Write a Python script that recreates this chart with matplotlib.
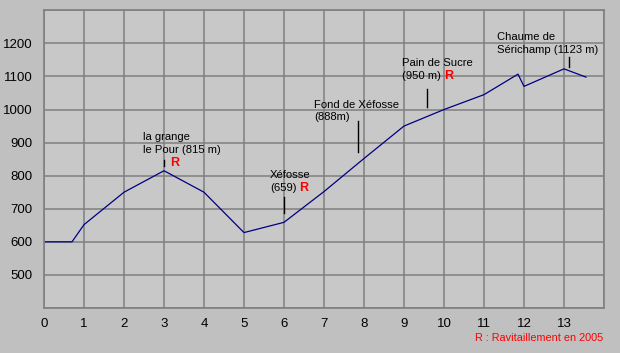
import matplotlib
matplotlib.use("Agg")
import matplotlib.pyplot as plt

km = [0, 0.7, 1, 2, 3, 4, 5, 6, 7, 8, 9, 10, 11, 11.85, 12, 13, 13.55]
elev = [600, 600, 652, 750, 815, 750, 628, 659, 752, 852, 950, 1000, 1045, 1107, 1070, 1123, 1098]

x_ticks = list(range(0, 14))
y_ticks = [500, 600, 700, 800, 900, 1000, 1100, 1200]

ann_line1 = ["la grange", "Xéfosse", "Fond de Xéfosse", "Pain de Sucre", "Chaume de"]
ann_line2 = ["le Pour (815 m)", "(659)", "(888m)", "(950 m)", "Sérichamp (1123 m)"]
ann_km = [3, 6, 7.85, 9.58, 13.13]
ann_lo = [830, 688, 873, 1009, 1130]
ann_hi = [847, 735, 965, 1061, 1158]
ann_tx = [2.48, 5.65, 6.76, 8.96, 11.33]
ann_y1 = [916, 802, 1015, 1142, 1220]
ann_y2 = [877, 764, 976, 1101, 1180]
ann_r = [(3.15, 838), (6.38, 764), None, (10.01, 1101), None]

plt.rcParams['font.family'] = ['Liberation Sans', 'DejaVu Sans']

fig = plt.figure(figsize=(6.2, 3.53), dpi=100, facecolor='#c0c0c0')
ax = fig.add_axes([44/620, 45/353, 560/620, 297.7/353])
ax.set_facecolor('#c8c8c8')
ax.set_xlim(0, 14)
ax.set_ylim(400, 1300)
ax.set_xticks(range(0, 15))
ax.set_xticklabels([str(t) for t in x_ticks] + [''])
ax.set_yticks(range(400, 1301, 100))
ax.set_yticklabels([''] + [str(t) for t in y_ticks] + [''])
ax.tick_params(length=0, labelsize=9.5, colors='black')
ax.tick_params(axis='x', pad=7)
ax.tick_params(axis='y', pad=8)
ax.grid(True, color='#808080', linewidth=1.1)
ax.set_axisbelow(True)
for s in ax.spines.values():
    s.set_color('#808080')
    s.set_linewidth(1.2)

ax.plot(km, elev, color='#000080', linewidth=0.9)

for i in range(len(ann_line1)):
    ax.plot([ann_km[i], ann_km[i]], [ann_lo[i], ann_hi[i]], color='black', linewidth=1.0)
    ax.text(ann_tx[i], ann_y1[i], ann_line1[i], fontsize=8.1, ha='left', va='center',
            color='black')
    ax.text(ann_tx[i], ann_y2[i], ann_line2[i], fontsize=8.1, ha='left', va='center',
            color='black')
    if ann_r[i] is not None:
        ax.text(ann_r[i][0], ann_r[i][1], 'R', fontsize=9, color='red', fontweight='bold',
                ha='left', va='center')

fig.text(603/620, 1 - 337.7/353, 'R : Ravitaillement en 2005', color='red', fontsize=7.8,
         ha='right', va='center')

fig.savefig('out.png', dpi=100, facecolor=fig.get_facecolor())
